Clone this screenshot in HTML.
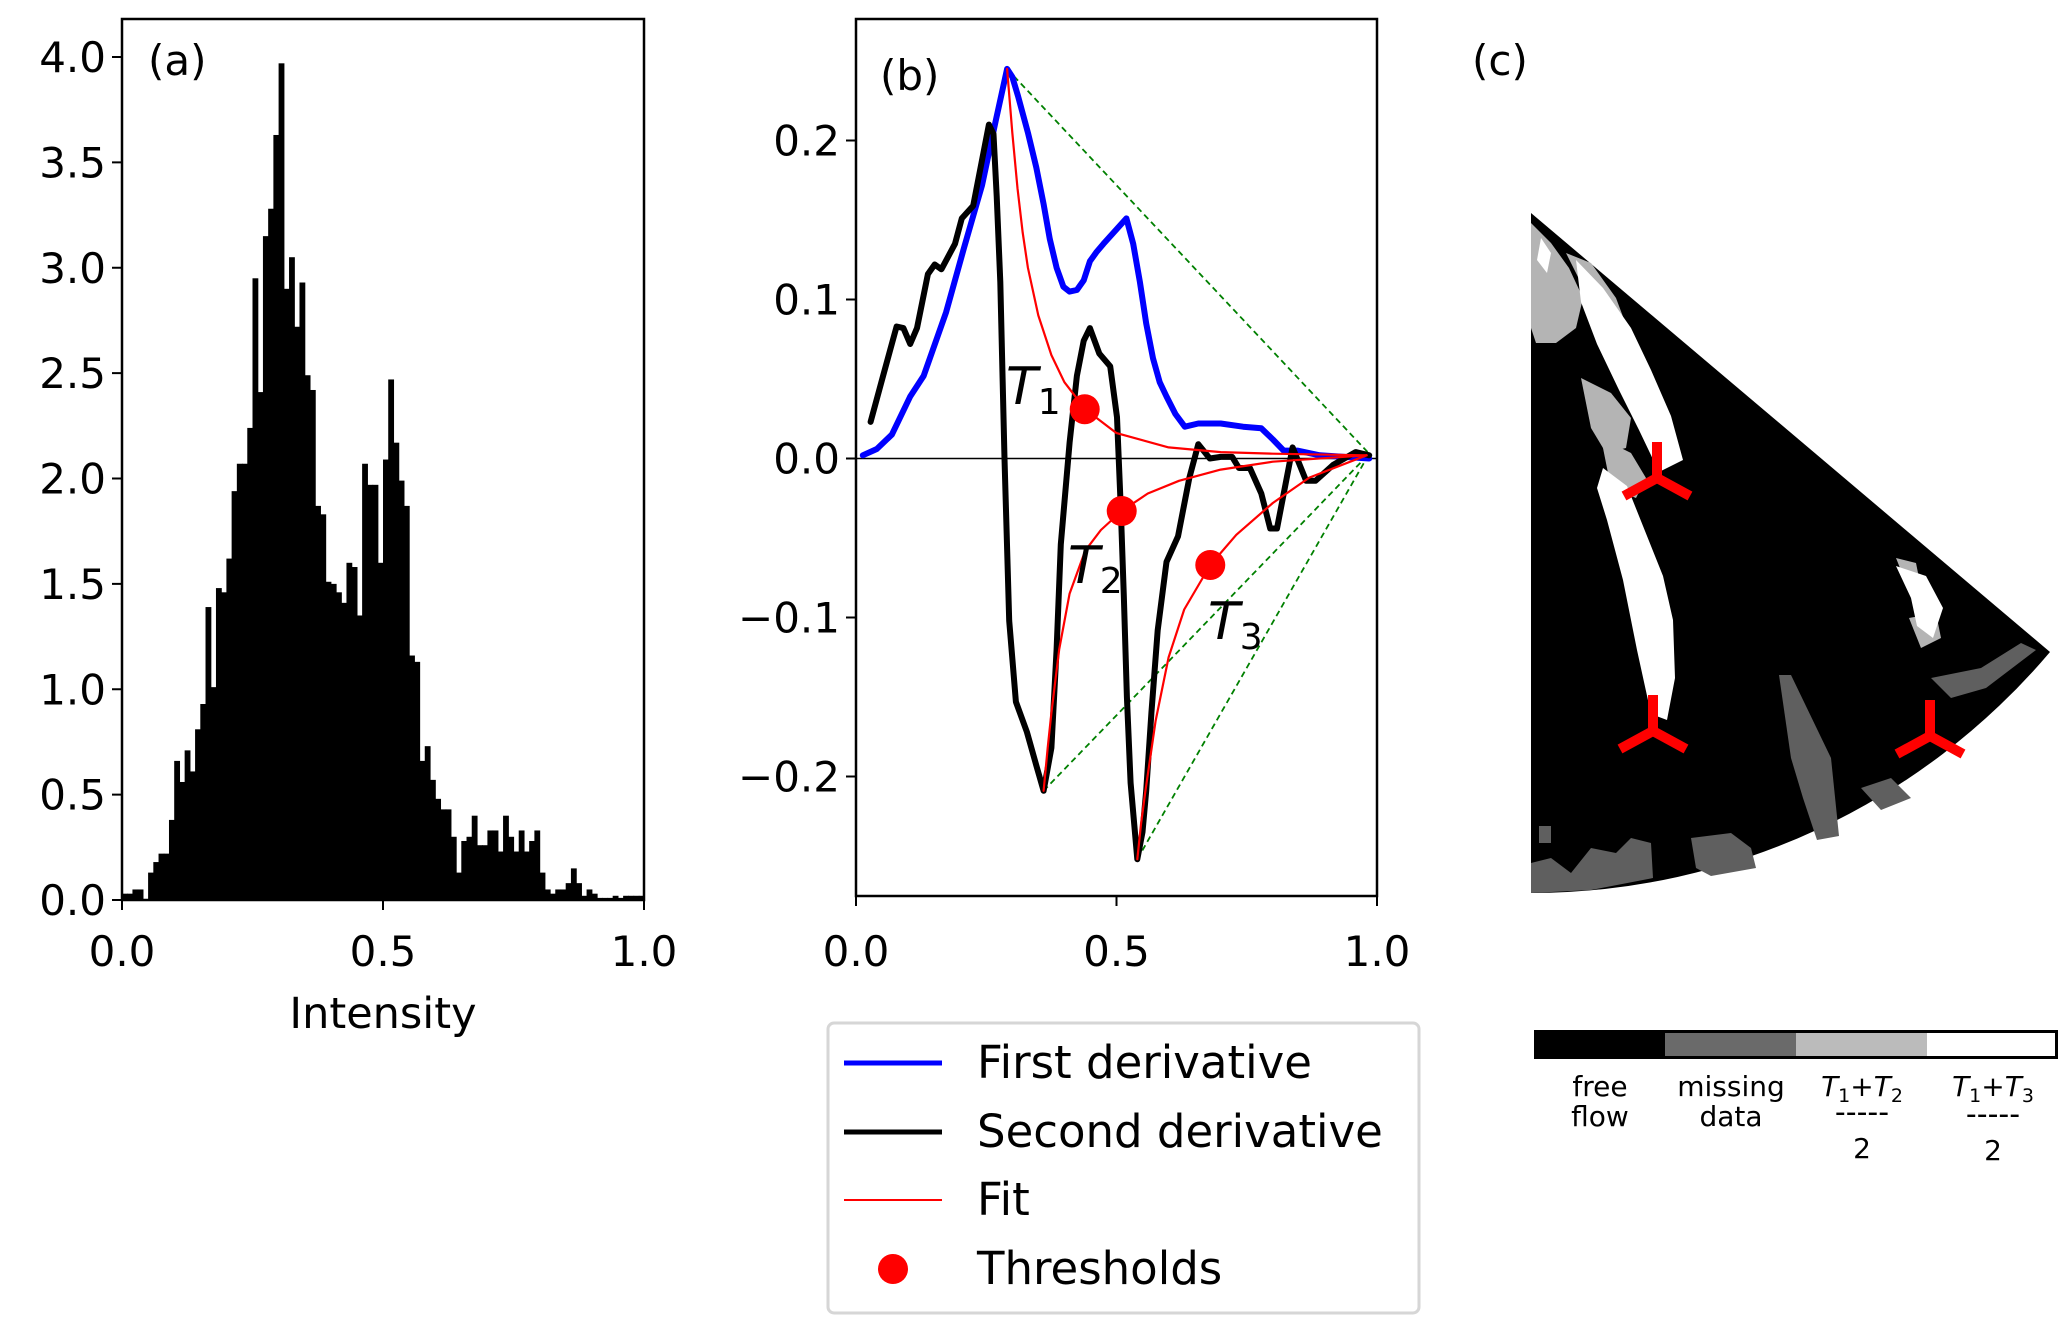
<!DOCTYPE html>
<html><head><meta charset="utf-8">
<style>
html,body{margin:0;padding:0;background:#fff;}
svg{display:block;font-family:"DejaVu Sans","Liberation Sans",sans-serif;}
</style></head>
<body>
<svg id="fig" width="2067" height="1327" viewBox="0 0 2067 1327" xmlns="http://www.w3.org/2000/svg">
  <g id="pa"></g>
  <g id="pb"></g>
  <g id="pc">
    <text x="1472" y="75" font-size="42">(c)</text>
    <g transform="translate(-9,-2)">
    <path d="M1540,215 L1540,895 A680,680 0 0,0 2059,654 Z" fill="#000"/>
    <g fill="#b4b4b4">
      <polygon points="1540,225 1560,245 1578,270 1592,300 1585,330 1565,345 1545,345 1540,330"/>
      <polygon points="1590,380 1620,395 1640,420 1635,450 1615,455 1600,430"/>
      <polygon points="1575,255 1600,265 1625,300 1640,340 1625,345 1605,315"/>
      <polygon points="1610,440 1640,455 1655,480 1645,500 1620,490"/>
      <polygon points="1905,560 1925,565 1930,590 1915,585"/>
      <polygon points="1918,620 1945,615 1950,640 1930,650"/>
    </g>
    <g fill="#fff">
      <polygon points="1585,262 1612,290 1640,330 1660,372 1680,418 1692,462 1668,474 1648,432 1628,392 1606,346 1590,304"/>
      <polygon points="1612,470 1636,488 1652,528 1672,578 1682,622 1684,680 1676,722 1660,716 1646,652 1632,582 1616,522 1606,490"/>
      <polygon points="1905,568 1935,578 1952,610 1942,640 1926,628 1920,600"/>
      <polygon points="1550,240 1560,255 1556,275 1546,262"/>
    </g>
    <g fill="#5f5f5f">
      <polygon points="1788,677 1800,677 1840,760 1848,838 1826,842 1812,800 1800,760"/>
      <polygon points="1540,865 1560,860 1580,875 1600,850 1625,855 1640,840 1660,845 1662,880 1600,892 1540,895"/>
      <polygon points="1700,840 1740,835 1760,850 1765,870 1720,878 1705,870"/>
      <polygon points="1940,680 1990,670 2030,645 2045,652 1995,690 1960,700"/>
      <polygon points="1870,790 1900,780 1920,800 1890,812"/>
      <polygon points="1548,828 1560,828 1560,845 1548,845"/>
    </g>
    <g id="tris"></g>
    </g>
    <g>
      <rect x="1534" y="1030" width="131" height="29" fill="#000"/>
      <rect x="1665" y="1030" width="131" height="29" fill="#6a6a6a"/>
      <rect x="1796" y="1030" width="131" height="29" fill="#bbbbbb"/>
      <rect x="1927" y="1030" width="131" height="29" fill="#fff"/>
      <rect x="1535.5" y="1031.5" width="521" height="26" fill="none" stroke="#000" stroke-width="3"/>
    </g>
    <g font-size="28" text-anchor="middle">
      <text x="1600" y="1096">free</text><text x="1600" y="1126">flow</text>
      <text x="1731" y="1096">missing</text><text x="1731" y="1126">data</text>
      <text x="1862" y="1096"><tspan font-style="italic">T</tspan><tspan font-size="19" dy="6">1</tspan><tspan dy="-6">+</tspan><tspan font-style="italic">T</tspan><tspan font-size="19" dy="6">2</tspan></text>
      <text x="1862" y="1126" font-size="30" dy="-4">-----</text><text x="1862" y="1158">2</text>
      <text x="1993" y="1096"><tspan font-style="italic">T</tspan><tspan font-size="19" dy="6">1</tspan><tspan dy="-6">+</tspan><tspan font-style="italic">T</tspan><tspan font-size="19" dy="6">3</tspan></text>
      <text x="1993" y="1128" font-size="30" dy="-4">-----</text><text x="1993" y="1160">2</text>
    </g>
  </g>
  <g>
    <rect x="828" y="1023" width="591" height="290" rx="6" fill="#fff" stroke="#d6d6d6" stroke-width="3"/>
    <g><line x1="844" y1="1063" x2="942" y2="1063" stroke="#0000ff" stroke-width="5"/><text x="977" y="1078" font-size="45">First derivative</text></g>
    <g><line x1="844" y1="1132" x2="942" y2="1132" stroke="#000" stroke-width="5"/><text x="977" y="1147" font-size="45">Second derivative</text></g>
    <g><line x1="844" y1="1200" x2="942" y2="1200" stroke="#ff0000" stroke-width="2"/><text x="977" y="1215" font-size="45">Fit</text></g>
    <g><circle cx="893" cy="1269" r="15" fill="#ff0000"/><text x="977" y="1284" font-size="45">Thresholds</text></g>
  </g>
</svg>
<script>
// ---------- data ----------
const histBinWidth = 0.01;
const histDensity = [0.03,0.03,0.05,0.05,0,0.13,0.18,0.22,0.22,0.38,0.66,0.56,0.71,0.61,0.81,0.93,1.39,1.01,1.48,1.46,1.62,1.94,2.07,2.07,2.24,2.95,2.41,3.15,3.28,3.63,3.97,2.90,3.05,2.72,2.93,2.49,2.42,1.87,1.83,1.51,1.50,1.46,1.41,1.60,1.58,1.35,2.07,1.97,1.97,1.60,2.09,2.47,2.17,1.99,1.87,1.16,1.13,0.66,0.73,0.57,0.48,0.43,0.43,0.30,0.13,0.28,0.30,0.40,0.26,0.26,0.33,0.33,0.23,0.40,0.30,0.23,0.33,0.23,0.28,0.33,0.13,0.05,0.03,0.05,0.05,0.08,0.15,0.08,0.02,0.05,0.03,0.01,0.01,0.01,0.02,0.01,0.02,0.02,0.02,0.02];
const histYTicks = ["0.0","0.5","1.0","1.5","2.0","2.5","3.0","3.5","4.0"];
const histXTicks = ["0.0","0.5","1.0"];

const firstX = [0.013,0.04,0.069,0.104,0.13,0.173,0.207,0.242,0.268,0.29,0.30,0.311,0.33,0.346,0.36,0.372,0.385,0.398,0.41,0.424,0.437,0.449,0.462,0.475,0.497,0.519,0.532,0.545,0.557,0.57,0.583,0.596,0.613,0.631,0.657,0.70,0.743,0.778,0.80,0.821,0.847,0.89,0.985];
const firstY = [0.002,0.006,0.015,0.039,0.052,0.092,0.132,0.172,0.212,0.245,0.24,0.228,0.205,0.183,0.16,0.138,0.12,0.108,0.105,0.106,0.112,0.124,0.13,0.135,0.143,0.151,0.135,0.111,0.085,0.063,0.048,0.039,0.028,0.02,0.022,0.022,0.02,0.019,0.012,0.005,0.005,0.002,0];
const secondX = [0.028,0.052,0.078,0.091,0.104,0.117,0.138,0.151,0.164,0.19,0.203,0.225,0.255,0.264,0.27,0.277,0.285,0.294,0.307,0.328,0.346,0.36,0.375,0.385,0.393,0.41,0.424,0.437,0.449,0.467,0.488,0.501,0.508,0.514,0.52,0.527,0.54,0.55,0.557,0.567,0.579,0.596,0.618,0.64,0.657,0.679,0.70,0.722,0.735,0.756,0.778,0.795,0.808,0.838,0.864,0.882,0.916,0.959,0.985];
const secondY = [0.023,0.052,0.083,0.082,0.072,0.082,0.116,0.122,0.119,0.135,0.151,0.159,0.21,0.204,0.165,0.111,0.0,-0.102,-0.153,-0.172,-0.193,-0.209,-0.182,-0.12,-0.054,0.01,0.052,0.074,0.082,0.066,0.058,0.026,-0.03,-0.086,-0.15,-0.204,-0.252,-0.235,-0.209,-0.16,-0.108,-0.065,-0.049,-0.012,0.009,0,0.001,0.001,-0.006,-0.006,-0.022,-0.044,-0.044,0.007,-0.014,-0.014,-0.004,0.004,0.002];
const fit1X = [0.29,0.30,0.31,0.32,0.33,0.35,0.375,0.40,0.44,0.5,0.6,0.7,0.8,0.98];
const fit1Y = [0.245,0.205,0.17,0.142,0.12,0.09,0.065,0.048,0.031,0.016,0.007,0.004,0.003,0.002];
const fit2X = [0.36,0.368,0.375,0.39,0.41,0.44,0.47,0.51,0.56,0.62,0.7,0.8,0.98];
const fit2Y = [-0.209,-0.182,-0.16,-0.12,-0.085,-0.058,-0.045,-0.033,-0.022,-0.014,-0.007,-0.002,0.002];
const fit3X = [0.54,0.547,0.555,0.575,0.6,0.63,0.68,0.73,0.8,0.87,0.98];
const fit3Y = [-0.252,-0.23,-0.21,-0.165,-0.125,-0.095,-0.067,-0.048,-0.028,-0.012,0.002];
const chordStartX = [0.29,0.36,0.54];
const chordStartY = [0.245,-0.209,-0.252];
const chordEnd = [0.985,0.003];
const threshX = [0.439,0.51,0.68];
const threshY = [0.031,-0.033,-0.067];
const threshNames = ["1","2","3"];
const bYTicks = [-0.2,-0.1,0.0,0.1,0.2];
const bYTickLabels = ["\u22120.2","\u22120.1","0.0","0.1","0.2"];
const bXTicks = ["0.0","0.5","1.0"];

// ---------- helpers ----------
const NS = "http://www.w3.org/2000/svg";
function mk(tag, parent, attrs){ const e=document.createElementNS(NS,tag); for(const k in attrs) e.setAttribute(k,attrs[k]); parent.appendChild(e); return e; }

// ---------- panel a ----------
const pa = document.getElementById('pa');
const aL=122,aR=644,aT=19,aB=900;
const axX = v => aL + v*(aR-aL);
const axY = v => aB - v*(aB-57)/4;
histDensity.forEach((h,i)=>{
  const x0=axX(i*histBinWidth), x1=axX((i+1)*histBinWidth);
  const r=mk('rect',pa,{x:x0,y:axY(h),width:x1-x0+0.6,height:aB-axY(h),fill:'#000'});
  
  
});
let fr=mk('rect',pa,{x:aL,y:aT,width:aR-aL,height:aB-aT,fill:'none',stroke:'#000','stroke-width':2.5});


histYTicks.forEach((t)=>{
  const y=axY(parseFloat(t));
  mk('line',pa,{x1:aL-10,y1:y,x2:aL,y2:y,stroke:'#000','stroke-width':2});
  const tx=mk('text',pa,{x:aL-16,y:y+15,'font-size':42,'text-anchor':'end'}); tx.textContent=t;
  
  
});
histXTicks.forEach((t)=>{
  const x=axX(parseFloat(t));
  mk('line',pa,{x1:x,y1:aB,x2:x,y2:aB+10,stroke:'#000','stroke-width':2});
  const tx=mk('text',pa,{x:x,y:966,'font-size':42,'text-anchor':'middle'}); tx.textContent=t;
  
  
});
let xt=mk('text',pa,{x:383,y:1028,'font-size':43,'text-anchor':'middle'}); xt.textContent='Intensity';


let la=mk('text',pa,{x:148,y:75,'font-size':42}); la.textContent='(a)';



// ---------- panel b ----------
const pb = document.getElementById('pb');
const bL=856,bR=1377,bT=19,bB=896,bY0=458.5,bUnit=1590;
const bx = v => bL + v*(bR-bL);
const by = v => bY0 - v*bUnit;
const cp = mk('clipPath',pb,{id:'bclip'}); mk('rect',cp,{x:bL,y:bT,width:bR-bL,height:bB-bT});
const bg = mk('g',pb,{'clip-path':'url(#bclip)'});
let zl=mk('line',bg,{x1:bL,y1:by(0),x2:bR,y2:by(0),stroke:'#000','stroke-width':1.5});


function poly(xs,ys,stroke,w,name,extra){
  const pts=xs.map((x,i)=>bx(x).toFixed(1)+','+by(ys[i]).toFixed(1)).join(' ');
  const p=mk('polyline',bg,Object.assign({points:pts,fill:'none',stroke:stroke,'stroke-width':w,'stroke-linejoin':'round','stroke-linecap':'round'},extra||{}));
  
  
}
chordStartX.forEach((x,i)=>{
  const l=mk('line',bg,{x1:bx(x),y1:by(chordStartY[i]),x2:bx(chordEnd[0]),y2:by(chordEnd[1]),stroke:'#008000','stroke-width':1.8,'stroke-dasharray':'6,4'});
  
  
});
poly(firstX,firstY,'#0000ff',6,'first-derivative-line');
poly(secondX,secondY,'#000',6,'second-derivative-line');
poly(fit1X,fit1Y,'#ff0000',2.2,'fit-1-line');
poly(fit2X,fit2Y,'#ff0000',2.2,'fit-2-line');
poly(fit3X,fit3Y,'#ff0000',2.2,'fit-3-line');
threshX.forEach((x,i)=>{
  const c=mk('circle',bg,{cx:bx(x),cy:by(threshY[i]),r:15,fill:'#ff0000'});
  
  
});
const tLabelPos=[[1006,404],[1068,583],[1208,639]];
threshNames.forEach((n,i)=>{
  const t=mk('text',pb,{x:tLabelPos[i][0],y:tLabelPos[i][1],'font-size':52});
  t.innerHTML='<tspan font-style="italic">T</tspan><tspan font-size="36" dy="10">'+n+'</tspan>';
  
  
});
let fb=mk('rect',pb,{x:bL,y:bT,width:bR-bL,height:bB-bT,fill:'none',stroke:'#000','stroke-width':2.5});


bYTicks.forEach((v,i)=>{
  const y=by(v);
  mk('line',pb,{x1:bL-10,y1:y,x2:bL,y2:y,stroke:'#000','stroke-width':2});
  const tx=mk('text',pb,{x:bL-16,y:y+15,'font-size':42,'text-anchor':'end'}); tx.textContent=bYTickLabels[i];
  
  
});
bXTicks.forEach((t)=>{
  const x=bx(parseFloat(t));
  mk('line',pb,{x1:x,y1:bB,x2:x,y2:bB+10,stroke:'#000','stroke-width':2});
  const tx=mk('text',pb,{x:x,y:966,'font-size':42,'text-anchor':'middle'}); tx.textContent=t;
  
  
});
let lb=mk('text',pb,{x:880,y:90,'font-size':42}); lb.textContent='(b)';



// ---------- tri markers ----------
const tris=document.getElementById('tris');
[[1666,480],[1662,733],[1939,738]].forEach(c=>{
  const g=mk('g',tris,{stroke:'#ff0000','stroke-width':10,'stroke-linecap':'butt'});
  mk('line',g,{x1:c[0],y1:c[1],x2:c[0],y2:c[1]-36});
  mk('line',g,{x1:c[0],y1:c[1],x2:c[0]-33,y2:c[1]+18});
  mk('line',g,{x1:c[0],y1:c[1],x2:c[0]+33,y2:c[1]+18});
  
  
});
</script>
</body></html>
